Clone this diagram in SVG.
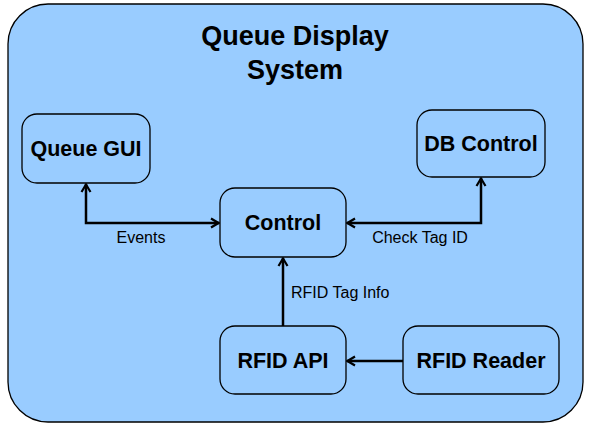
<svg xmlns="http://www.w3.org/2000/svg" width="591" height="427" viewBox="0 0 591 427">
<defs>
<style>
.node rect{fill:#99CCFF;stroke:#000;stroke-width:1.3}
.node text{font-family:"Liberation Sans",Arial,sans-serif;font-weight:bold;font-size:21.5px;text-anchor:middle;fill:#000}
.title{font-family:"Liberation Sans",Arial,sans-serif;font-weight:bold;font-size:27px;text-anchor:middle;fill:#000}
.lbl{font-family:"Liberation Sans",Arial,sans-serif;font-size:16px;fill:#000}
.edge{fill:none;stroke:#000;stroke-width:2.5}
</style>
<marker id="arr" viewBox="0 0 12 12" refX="11" refY="6" markerWidth="12" markerHeight="12" markerUnits="userSpaceOnUse" orient="auto-start-reverse">
<path d="M3,1.5 L10.5,6 L3,10.5" fill="none" stroke="#000" stroke-width="2.2"/>
</marker>
</defs>
<g id="container">
<rect x="8" y="4" width="575" height="418" rx="40" ry="40" fill="#99CCFF" stroke="#000" stroke-width="1.3"/>
<text class="title" x="295" y="45">Queue Display</text>
<text class="title" x="295" y="79">System</text>
</g>
<g id="connectors">
<path class="edge" d="M86,184 L86,223 L219,223" marker-start="url(#arr)" marker-end="url(#arr)"/>
<path class="edge" d="M481,178 L481,223 L347,223" marker-start="url(#arr)" marker-end="url(#arr)"/>
<path class="edge" d="M283,326 L283,258" marker-end="url(#arr)"/>
<path class="edge" d="M403,361 L347,361" marker-end="url(#arr)"/>
<text class="lbl" x="141" y="243" text-anchor="middle">Events</text>
<text class="lbl" x="420" y="243" text-anchor="middle">Check Tag ID</text>
<text class="lbl" x="291" y="298">RFID Tag Info</text>
</g>
<g id="queue-gui" class="node">
<rect x="22" y="114" width="128" height="69" rx="15" ry="15"/>
<text x="86" y="156">Queue GUI</text>
</g>
<g id="db-control" class="node">
<rect x="417" y="110" width="128" height="67" rx="15" ry="15"/>
<text x="481" y="151">DB Control</text>
</g>
<g id="control" class="node">
<rect x="220" y="188" width="126" height="69" rx="15" ry="15"/>
<text x="283" y="230">Control</text>
</g>
<g id="rfid-api" class="node">
<rect x="220" y="326" width="126" height="68" rx="15" ry="15"/>
<text x="283" y="368">RFID API</text>
</g>
<g id="rfid-reader" class="node">
<rect x="403" y="326" width="156" height="68" rx="15" ry="15"/>
<text x="481" y="368">RFID Reader</text>
</g>
</svg>
